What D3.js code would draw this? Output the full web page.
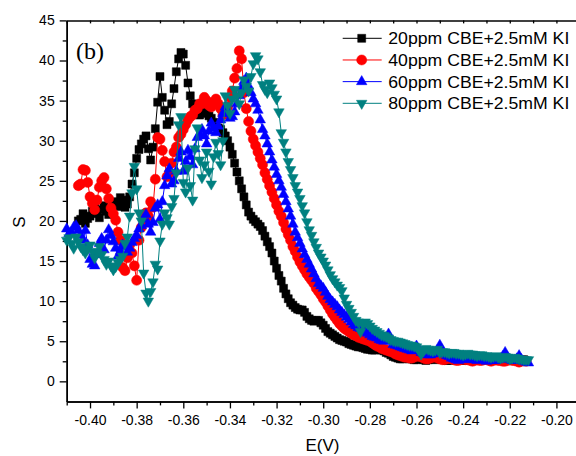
<!DOCTYPE html>
<html><head><meta charset="utf-8">
<script src="https://cdn.jsdelivr.net/npm/d3@7"></script>
<style>
body{margin:0;background:#fff}
svg{display:block}
text{font-family:"Liberation Sans",Arial,Helvetica,sans-serif;fill:#000}
</style></head><body>
<svg id="c" width="576" height="456"></svg>
<script>
// ---------------- data ----------------
const potential = [
-0.410,-0.409,-0.408,-0.407,-0.406,-0.405,-0.404,-0.403,-0.402,-0.401,
-0.400,-0.399,-0.398,-0.397,-0.396,-0.395,-0.394,-0.393,-0.392,-0.391,
-0.390,-0.389,-0.388,-0.387,-0.386,-0.385,-0.384,-0.383,-0.382,-0.381,
-0.380,-0.379,-0.378,-0.377,-0.376,-0.375,-0.374,-0.373,-0.372,-0.371,
-0.370,-0.369,-0.368,-0.367,-0.366,-0.365,-0.364,-0.363,-0.362,-0.361,
-0.360,-0.359,-0.358,-0.357,-0.356,-0.355,-0.354,-0.353,-0.352,-0.351,
-0.350,-0.349,-0.348,-0.347,-0.346,-0.345,-0.344,-0.343,-0.342,-0.341,
-0.340,-0.339,-0.338,-0.337,-0.336,-0.335,-0.334,-0.333,-0.332,-0.331,
-0.330,-0.329,-0.328,-0.327,-0.326,-0.325,-0.324,-0.323,-0.322,-0.321,
-0.320,-0.319,-0.318,-0.317,-0.316,-0.315,-0.314,-0.313,-0.312,-0.311,
-0.310,-0.309,-0.308,-0.307,-0.306,-0.305,-0.304,-0.303,-0.302,-0.301,
-0.300,-0.299,-0.298,-0.297,-0.296,-0.295,-0.294,-0.293,-0.292,-0.291,
-0.290,-0.289,-0.288,-0.287,-0.286,-0.285,-0.284,-0.283,-0.282,-0.281,
-0.280,-0.279,-0.278,-0.277,-0.276,-0.275,-0.274,-0.273,-0.272,-0.271,
-0.270,-0.269,-0.268,-0.267,-0.266,-0.265,-0.264,-0.263,-0.262,-0.261,
-0.260,-0.259,-0.258,-0.257,-0.256,-0.255,-0.254,-0.253,-0.252,-0.251,
-0.250,-0.249,-0.248,-0.247,-0.246,-0.245,-0.244,-0.243,-0.242,-0.241,
-0.240,-0.239,-0.238,-0.237,-0.236,-0.235,-0.234,-0.233,-0.232,-0.231,
-0.230,-0.229,-0.228,-0.227,-0.226,-0.225,-0.224,-0.223,-0.222,-0.221,
-0.220,-0.219,-0.218,-0.217,-0.216,-0.215,-0.214,-0.213,-0.212];

const s20ppm = [
null,null,null,null,null,20.0,20.2,20.9,19.7,20.3,
20.6,21.2,21.6,20.9,20.4,21.4,21.9,21.2,20.8,21.6,
22.4,22.0,21.8,22.9,22.6,21.7,22.1,23.0,24.6,26.0,
27.8,28.9,29.6,30.2,30.6,29.0,27.6,29.2,31.5,34.8,
38.0,35.4,33.8,32.0,32.4,34.6,36.5,38.6,40.2,41.0,
40.8,39.4,37.2,35.6,34.6,34.0,33.8,33.2,33.4,33.9,
33.6,33.1,32.8,32.3,31.9,31.6,31.4,31.0,30.6,30.0,
29.2,28.3,27.2,26.1,25.0,24.0,23.0,22.0,21.1,20.6,
20.2,19.9,19.6,19.3,18.8,18.1,17.4,16.8,16.0,15.0,
14.1,13.2,12.5,11.6,10.9,10.3,9.8,9.5,9.2,9.0,
8.9,8.9,8.6,8.1,7.8,7.6,7.5,7.6,7.6,7.3,
7.0,6.6,6.2,6.0,5.8,5.6,5.4,5.2,5.1,5.0,
4.9,4.7,4.6,4.5,4.4,4.3,4.3,4.2,4.1,4.0,
4.0,3.9,3.9,4.0,4.0,3.9,3.8,3.6,3.5,3.3,
3.1,3.0,2.9,2.8,2.8,2.9,2.9,2.8,2.8,2.7,
2.7,2.8,2.9,2.7,2.6,2.7,2.8,2.8,2.7,2.8,
2.9,2.8,2.7,2.6,2.6,2.7,2.8,2.7,2.7,2.6,
2.6,2.7,2.8,2.7,2.7,2.6,2.6,2.7,2.7,2.8,
2.8,2.7,2.6,2.7,2.7,2.6,2.6,2.7,2.8,2.7,
2.6,2.7,2.7,2.6,2.6,2.7,2.7,null,null];

const s40ppm = [
null,null,null,null,null,24.4,24.6,26.4,26.3,24.8,
23.0,22.2,21.4,22.6,24.2,25.0,25.4,24.0,22.8,21.6,
20.9,20.1,18.6,17.6,14.2,13.8,15.4,17.0,16.0,14.4,
12.6,17.6,19.2,20.2,21.0,20.6,22.4,21.7,25.2,30.4,
30.2,28.8,27.4,25.5,26.0,27.2,28.6,29.2,30.4,30.8,
31.4,32.0,32.6,33.0,33.2,33.8,34.0,34.6,34.6,35.4,
35.0,34.4,34.2,34.8,35.2,34.6,34.0,33.2,33.4,34.2,
35.4,36.2,37.8,39.0,41.2,40.2,36.0,34.0,32.4,31.2,
30.2,29.4,28.6,27.8,27.0,26.0,25.2,24.4,23.6,22.8,
22.0,21.2,20.6,19.8,19.0,18.3,17.6,16.8,16.2,15.5,
14.9,14.4,13.9,13.4,13.0,12.6,12.2,11.6,11.2,10.8,
10.3,9.9,9.4,8.9,8.4,8.0,7.6,7.2,6.9,6.6,
6.4,6.2,6.0,5.8,5.7,5.5,5.4,5.3,5.2,5.1,
5.0,4.8,4.6,4.4,4.3,4.1,4.0,3.9,3.8,3.7,
3.6,3.4,3.3,3.2,3.1,3.0,3.0,2.9,2.9,3.0,
3.2,3.1,3.1,2.9,2.8,2.8,2.9,3.0,3.1,2.9,
2.8,2.7,2.7,2.8,2.9,2.8,2.7,2.6,2.6,2.7,
2.8,2.7,2.7,2.6,2.5,2.6,2.7,2.6,2.6,2.7,
2.8,2.6,2.5,2.6,2.7,2.6,2.6,2.5,2.5,2.6,
2.7,2.6,2.6,2.5,2.4,2.5,2.6,2.5,null];

const s60ppm = [
19.0,18.4,18.6,19.2,19.4,18.8,18.2,17.6,18.8,17.0,
15.2,14.6,14.4,15.8,17.2,17.8,16.4,17.6,18.9,18.2,
17.4,16.6,15.6,16.2,17.0,16.8,16.1,16.6,17.3,17.8,
18.2,19.0,19.4,20.2,20.8,19.6,18.6,19.8,21.6,22.0,
20.2,22.4,24.4,25.6,26.5,24.6,25.0,26.2,27.8,28.6,
26.2,27.4,28.8,28.0,27.0,29.0,30.4,30.8,31.4,30.6,
29.6,31.2,32.2,31.6,31.0,31.8,32.6,33.4,34.2,33.4,
32.8,33.0,33.6,34.6,35.6,36.6,37.4,37.8,36.8,36.0,
35.2,34.6,33.8,32.6,31.4,30.6,29.6,28.6,27.6,26.7,
25.8,25.0,24.2,23.3,22.4,21.5,20.6,19.6,18.6,17.9,
17.2,16.5,15.8,15.2,14.6,14.0,13.4,12.8,12.2,11.9,
11.6,11.1,10.6,10.2,9.9,9.6,9.3,8.9,8.6,8.3,
8.0,7.7,7.4,7.1,6.9,6.7,6.6,6.4,6.2,6.0,
5.8,5.6,5.5,5.4,5.2,5.1,5.0,5.2,5.9,5.0,
4.6,4.5,4.4,4.3,4.2,4.1,4.0,3.9,3.8,4.0,
4.4,3.9,3.6,3.5,3.4,3.3,3.3,3.4,3.5,3.9,
4.5,3.8,3.4,3.2,3.1,2.9,2.8,2.7,2.6,2.8,
3.0,2.8,2.7,2.8,2.9,2.7,2.6,2.7,2.8,2.7,
2.5,2.6,2.7,2.6,2.6,2.7,2.8,3.1,3.6,3.0,
2.7,2.6,2.6,2.8,3.2,2.7,2.5,2.4,2.3];

const s80ppm = [
17.6,17.9,17.2,16.6,18.0,17.4,16.8,16.4,16.0,16.6,
17.0,16.2,15.4,16.0,16.8,15.8,15.2,14.6,15.0,14.4,
13.9,14.3,14.8,15.2,15.6,17.2,18.0,20.6,23.5,26.8,
24.0,21.0,20.0,13.5,11.0,10.0,11.2,12.4,14.6,14.0,
17.5,19.6,21.0,20.4,19.6,21.8,22.8,26.0,32.0,33.0,
24.8,23.6,26.6,24.4,22.6,29.0,31.6,27.6,25.4,27.0,
28.6,26.2,24.6,28.0,29.8,28.4,27.0,30.0,35.6,34.4,
33.4,35.2,36.4,35.6,34.6,36.0,37.6,36.8,36.2,38.0,
39.6,40.6,40.2,38.6,37.0,36.4,36.0,37.2,36.6,35.8,
35.2,33.6,31.0,29.8,28.6,27.4,26.4,25.4,24.4,23.6,
22.8,21.9,21.0,19.9,18.9,18.2,17.4,16.7,16.0,15.5,
15.0,14.5,13.9,13.3,12.8,12.4,12.0,11.7,11.3,10.4,
9.6,9.1,8.6,8.1,7.6,7.4,6.2,7.1,7.4,7.2,
6.9,6.6,6.4,6.2,6.0,5.8,5.7,5.6,5.4,5.2,
5.1,5.0,5.0,4.9,4.8,4.7,4.6,4.5,4.5,4.4,
4.3,3.9,3.4,3.8,4.1,4.0,3.9,3.8,3.9,4.0,
3.6,3.7,3.7,3.6,3.5,3.6,3.6,3.5,3.5,3.4,
3.3,3.4,3.5,3.4,3.4,3.3,3.2,3.3,3.3,3.2,
3.2,3.1,3.0,3.1,3.2,3.0,2.9,3.0,3.1,3.0,
2.8,2.9,3.0,2.9,2.8,2.8,2.7,2.7,2.7];

const seriesNames = ["20ppm CBE+2.5mM KI","40ppm CBE+2.5mM KI","60ppm CBE+2.5mM KI","80ppm CBE+2.5mM KI"];
const xTicks = [-0.40,-0.38,-0.36,-0.34,-0.32,-0.30,-0.28,-0.26,-0.24,-0.22,-0.20];
const xMinorTicks = [-0.41,-0.39,-0.37,-0.35,-0.33,-0.31,-0.29,-0.27,-0.25,-0.23,-0.21];
const yTicks = [0,5,10,15,20,25,30,35,40,45];
const yMinorTicks = [2.5,7.5,12.5,17.5,22.5,27.5,32.5,37.5,42.5];

// ---------------- drawing ----------------
const svg = d3.select("#c");
const L = 66.7, T = 20.4, B = 401.4;
const x = d3.scaleLinear().domain([-0.41, -0.19]).range([L, L + 0.22 * 2332]);
const y = d3.scaleLinear().domain([-2.5, 45]).range([B, T]);

const styles = [
  {color:"#000000", sym:d3.symbolSquare, size:64, rot:0},
  {color:"#ff0000", sym:d3.symbolCircle, size:80, rot:0},
  {color:"#0000ff", sym:d3.symbolTriangle, size:48, rot:0},
  {color:"#008080", sym:d3.symbolTriangle, size:48, rot:180}
];
const values = [s20ppm, s40ppm, s60ppm, s80ppm];

const fmt = d => d.toFixed(2);

function styleAxis(g){
  g.selectAll("path.domain").attr("stroke","#000").attr("stroke-width",1.5);
  g.selectAll(".tick line").attr("stroke","#000").attr("stroke-width",1.3);
  g.selectAll(".tick text").attr("font-size","14px")
   .attr("font-family",'"Liberation Sans",Arial,sans-serif').attr("fill","#000");
}
// bottom
svg.append("g").attr("transform",`translate(0,${B})`)
  .call(d3.axisBottom(x).tickValues(xMinorTicks).tickSize(4).tickSizeOuter(0).tickFormat(""))
  .call(styleAxis);
svg.append("g").attr("transform",`translate(0,${B})`)
  .call(d3.axisBottom(x).tickValues(xTicks).tickSize(7).tickSizeOuter(0).tickPadding(7).tickFormat(fmt))
  .call(styleAxis);
// top
svg.append("g").attr("transform",`translate(0,${T})`)
  .call(d3.axisTop(x).tickValues(xTicks.concat(xMinorTicks)).tickSize(-3).tickSizeOuter(0).tickFormat(""))
  .call(styleAxis);
// left
svg.append("g").attr("transform",`translate(${L},0)`)
  .call(d3.axisLeft(y).tickValues(yMinorTicks).tickSize(4).tickSizeOuter(0).tickFormat(""))
  .call(styleAxis);
svg.append("g").attr("transform",`translate(${L},0)`)
  .call(d3.axisLeft(y).tickValues(yTicks).tickSize(7).tickSizeOuter(0).tickPadding(5).tickFormat(d=>String(d)))
  .call(styleAxis);

// series
const line = d3.line().defined(d => d.v !== null).x(d => x(d.e)).y(d => y(d.v));
values.forEach((vals, i) => {
  const st = styles[i];
  const pts = potential.map((e, k) => ({e, v: vals[k]}));
  const g = svg.append("g");
  g.append("path").datum(pts).attr("d", line)
    .attr("fill","none").attr("stroke",st.color).attr("stroke-width",1);
  const symPath = d3.symbol().type(st.sym).size(st.size)();
  g.selectAll("path.m").data(pts.filter(d => d.v !== null)).join("path")
    .attr("class","m").attr("d", symPath)
    .attr("transform", d => `translate(${x(d.e)},${y(d.v)}) rotate(${st.rot})`)
    .attr("fill", st.color).attr("stroke", st.color).attr("stroke-width",0.5);
});

// legend
seriesNames.forEach((name, i) => {
  const st = styles[i];
  const ly = 38.3 + 21.67 * i;
  const g = svg.append("g");
  g.append("line").attr("x1",342.7).attr("x2",381.7).attr("y1",ly).attr("y2",ly)
    .attr("stroke",st.color).attr("stroke-width",1);
  g.append("path").attr("d", d3.symbol().type(st.sym).size(st.size)())
    .attr("transform",`translate(361.7,${ly}) rotate(${st.rot})`)
    .attr("fill",st.color).attr("stroke",st.color).attr("stroke-width",0.5);
  g.append("text").attr("x",388.3).attr("y",ly).attr("dy","0.36em")
    .attr("font-size","17px").attr("textLength",181).attr("lengthAdjust","spacingAndGlyphs")
    .text(name);
});

// labels
svg.append("text").attr("x",76).attr("y",59).attr("font-size","24px")
  .style("font-family",'"Liberation Serif","Times New Roman",serif')
  .text("(b)");
svg.append("text").attr("transform","translate(25,222) rotate(-90)")
  .attr("text-anchor","middle").attr("font-size","17px").text("S");
svg.append("text").attr("x",322.5).attr("y",451)
  .attr("text-anchor","middle").attr("font-size","17px").text("E(V)");
</script>
</body></html>
